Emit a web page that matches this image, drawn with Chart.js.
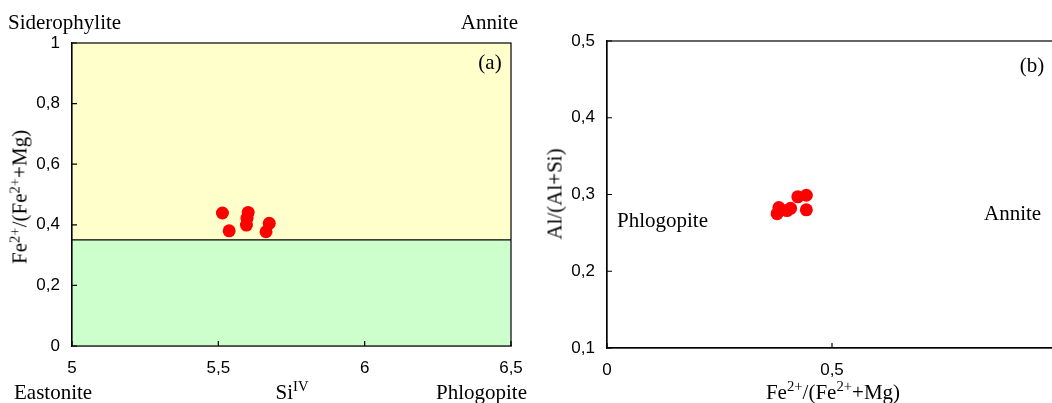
<!DOCTYPE html>
<html>
<head>
<meta charset="utf-8">
<script src="https://cdn.jsdelivr.net/npm/chart.js@4.4.0/dist/chart.umd.min.js"></script>
<style>
    html, body { margin: 0; padding: 0; overflow: hidden; background: #fff; }
    #wrap { position: relative; width: 1052px; height: 403px; overflow: hidden; }
    canvas { position: absolute; top: 0; }
    #chartA { left: 0; }
    #chartB { left: 540px; }
    .lbl { position: absolute; font-family: 'Liberation Serif', 'Times New Roman', serif; font-size: 21px; color: #000; white-space: nowrap; line-height: 1; }
    .lbl sup { font-size: 0.7em; vertical-align: 0.5em; line-height: 0; }
    .mid { transform: translate(-50%, -50%); }
    .rot { transform: translate(-50%, -50%) rotate(-90deg); }
</style>
</head>
<body>
<div id="wrap">
    <canvas id="chartA" width="540" height="403"></canvas>
    <canvas id="chartB" width="540" height="403"></canvas>

    <div class="lbl" style="left:8px; top:12px;">Siderophylite</div>
    <div class="lbl" style="right:534px; top:12px;">Annite</div>
    <div class="lbl" style="left:14px; top:382px;">Eastonite</div>
    <div class="lbl" style="right:525px; top:382px;">Phlogopite</div>
    <div class="lbl mid" style="left:292px; top:392px;">Si<sup>IV</sup></div>
    <div class="lbl mid" style="left:490px; top:62px;">(a)</div>
    <div class="lbl rot" style="left:20px; top:197px;">Fe<sup>2+</sup>/(Fe<sup>2+</sup>+Mg)</div>

    <div class="lbl mid" style="left:1032px; top:65px;">(b)</div>
    <div class="lbl" style="left:617px; top:210px;">Phlogopite</div>
    <div class="lbl" style="left:984px; top:203px;">Annite</div>
    <div class="lbl rot" style="left:555px; top:194px;">Al/(Al+Si)</div>
    <div class="lbl mid" style="left:833px; top:392px;">Fe<sup>2+</sup>/(Fe<sup>2+</sup>+Mg)</div>
</div>

<script>
// panel (a): Si(IV) vs Fe2+/(Fe2++Mg)
const SI_IV      = [5.514, 5.537, 5.602, 5.598, 5.596, 5.674, 5.663];
const FE_RATIO_A = [0.439, 0.380, 0.441, 0.422, 0.399, 0.405, 0.377];
const X_TICKS_A  = [5, 5.5, 6, 6.5];
const Y_TICKS_A  = [0, 0.2, 0.4, 0.6, 0.8, 1];
const FIELD_SPLIT = [0.35];   // siderophylite-annite / eastonite-phlogopite boundary

// panel (b): Fe2+/(Fe2++Mg) vs Al/(Al+Si)
const FE_RATIO_B = [0.378, 0.382, 0.400, 0.408, 0.424, 0.443, 0.443];
const AL_RATIO   = [0.275, 0.283, 0.279, 0.282, 0.297, 0.299, 0.280];
const X_TICKS_B  = [0, 0.5, 1];
const Y_TICKS_B  = [0.1, 0.2, 0.3, 0.4, 0.5];

const TICK_FONT = { family: "'Liberation Sans', Arial, sans-serif", size: 17 };
const POINT_COLOR = '#ff0000';

let oChart = {
    init: function() {
        this.cacheDom();
        this.drawPanelA();
        this.drawPanelB();
    },
    cacheDom: function() {
        this.oCtxA = document.getElementById('chartA').getContext('2d');
        this.oCtxB = document.getElementById('chartB').getContext('2d');
    },
    /**
     * pairs two value arrays into scatter points
     */
    toPoints: function(aX, aY) {
        return aX.map(function(x, i) { return { x: x, y: aY[i] }; });
    },
    formatTick: function(v) {
        return String(Math.round(v * 10) / 10).replace('.', ',');
    },
    /**
     * box round the plot area plus short inward tick marks
     */
    frame: {
        id: 'frame',
        afterDraw: function(chart) {
            let ctx = chart.ctx, a = chart.chartArea;
            let sx = chart.scales.x, sy = chart.scales.y;
            ctx.save();
            ctx.strokeStyle = '#000';
            ctx.lineWidth = 1.2;
            ctx.strokeRect(a.left, a.top, a.right - a.left, a.bottom - a.top);
            ctx.beginPath();
            sx.ticks.forEach(function(t) {
                let px = sx.getPixelForValue(t.value);
                ctx.moveTo(px, a.bottom);
                ctx.lineTo(px, a.bottom - 5);
            });
            sy.ticks.forEach(function(t) {
                let py = sy.getPixelForValue(t.value);
                ctx.moveTo(a.left, py);
                ctx.lineTo(a.left + 5, py);
            });
            ctx.stroke();
            ctx.restore();
        }
    },
    /**
     * yellow / green fields of panel (a)
     */
    fields: {
        id: 'fields',
        beforeDatasetsDraw: function(chart) {
            let ctx = chart.ctx, a = chart.chartArea;
            let py = chart.scales.y.getPixelForValue(FIELD_SPLIT[0]);
            ctx.save();
            ctx.fillStyle = '#ffffcc';
            ctx.fillRect(a.left, a.top, a.right - a.left, py - a.top);
            ctx.fillStyle = '#ccffcc';
            ctx.fillRect(a.left, py, a.right - a.left, a.bottom - py);
            ctx.strokeStyle = '#000';
            ctx.lineWidth = 1.2;
            ctx.beginPath();
            ctx.moveTo(a.left, py);
            ctx.lineTo(a.right, py);
            ctx.stroke();
            ctx.restore();
        }
    },
    buildScale: function(min, max, aTicks, fitSize, bHoriz) {
        return {
            type: 'linear',
            min: min,
            max: max,
            afterBuildTicks: function(s) { s.ticks = aTicks.map(function(v) { return { value: v }; }); },
            afterFit: function(s) { if (bHoriz) { s.height = fitSize; } else { s.width = fitSize; } },
            grid: { display: false, drawTicks: false },
            border: { display: true, color: '#000', width: 1.2 },
            ticks: { color: '#000', font: TICK_FONT, padding: 12, callback: oChart.formatTick }
        };
    },
    drawChart: function(oCtx, aPoints, oScales, oPadding, aPlugins) {
        return new Chart(oCtx, {
            type: 'scatter',
            data: {
                datasets: [{
                    data: aPoints,
                    backgroundColor: POINT_COLOR,
                    borderWidth: 0,
                    pointRadius: 6.5,
                    pointHoverRadius: 6.5
                }]
            },
            options: {
                responsive: false,
                animation: false,
                events: [],
                layout: { padding: oPadding },
                plugins: { legend: { display: false }, tooltip: { enabled: false } },
                scales: oScales
            },
            plugins: aPlugins
        });
    },
    drawPanelA: function() {
        this.drawChart(this.oCtxA, this.toPoints(SI_IV, FE_RATIO_A), {
            x: this.buildScale(5, 6.5, X_TICKS_A, 57, true),
            y: this.buildScale(0, 1, Y_TICKS_A, 72, false)
        }, { top: 43, right: 29, left: 0, bottom: 0 }, [this.fields, this.frame]);
    },
    drawPanelB: function() {
        this.drawChart(this.oCtxB, this.toPoints(FE_RATIO_B, AL_RATIO), {
            x: this.buildScale(0, 1, X_TICKS_B, 55, true),
            y: this.buildScale(0.1, 0.5, Y_TICKS_B, 67, false)
        }, { top: 41, right: 23, left: 0, bottom: 0 }, [this.frame]);
    }
};

oChart.init();
</script>
</body>
</html>
